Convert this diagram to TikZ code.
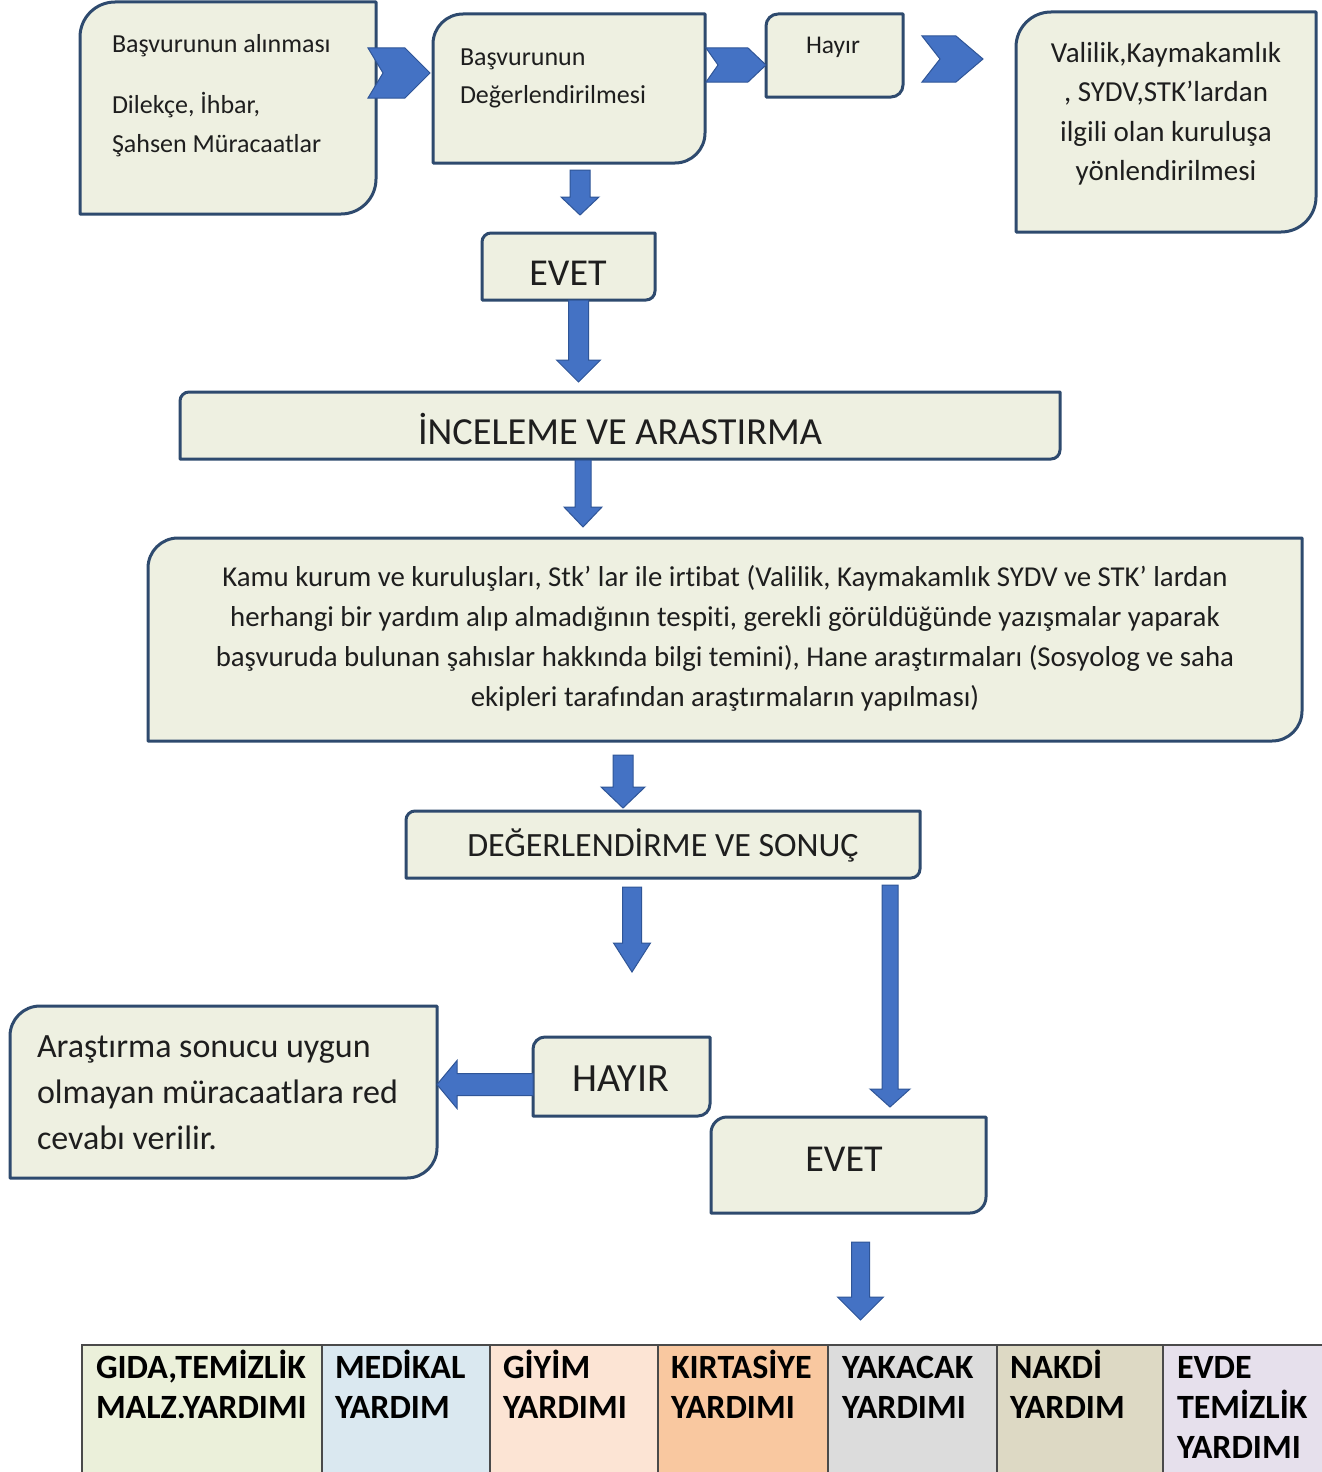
\documentclass[tikz,border=0pt]{standalone}
\usepackage{fontspec}
\setmainfont{Carlito}[Ligatures={NoCommon,TeX}]
\usetikzlibrary{calc}
\definecolor{boxfill}{HTML}{EEF0E1}
\definecolor{boxline}{HTML}{2E4A6E}
\definecolor{arrfill}{HTML}{4472C4}
\definecolor{arrline}{HTML}{2F5597}
\definecolor{txtcol}{HTML}{1E1E1E}
\definecolor{cellA}{HTML}{EBF0DA}
\definecolor{cellB}{HTML}{DAE8F0}
\definecolor{cellC}{HTML}{FCE4D4}
\definecolor{cellD}{HTML}{F9C8A0}
\definecolor{cellE}{HTML}{DCDCDC}
\definecolor{cellF}{HTML}{DDD9C4}
\definecolor{cellG}{HTML}{E6E0EC}
\definecolor{cellline}{HTML}{4A4A4A}

\newcommand\fs[2]{\fontsize{#1}{#2}\selectfont}
\newcommand\tstrut[1]{\rule{0pt}{#1pt}}

\tikzset{
 boxshape/.style={draw=none,inner sep=0pt,outer sep=0pt},
 boxborder/.style={draw=boxline,line width=3pt,fill=boxfill,line join=round},
 txt/.style={inner sep=0pt,outer sep=0pt,text=txtcol},
 blockarrow/.style={fill=arrfill,draw=arrline,line width=1pt,line join=miter},
 cell/.style={draw=cellline,line width=1.8pt,inner sep=0pt,outer sep=0pt,anchor=north west,minimum height=140pt},
 celltxt/.style={inner sep=0pt,outer sep=0pt,text=black,anchor=north west,align=left,font=\fs{34}{40}\bfseries},
}

\newcommand\mkbox[6]{%
 \node[boxshape,minimum width={#4-#2},minimum height={#5-#3}] (#1) at ({(#2+#4)/2},{(#3+#5)/2}) {};
 \draw[boxborder] (#1.south west) -- ([yshift=-#6pt]#1.north west) arc[start angle=180,end angle=90,radius=#6pt] -- (#1.north east) -- ([yshift=#6pt]#1.south east) arc[start angle=0,end angle=-90,radius=#6pt] -- cycle;}

\newcommand\vblk[5]{%
 \path[blockarrow] let \p1=#1, \p2=#2 in
 (\x1-#3pt,\y1) -- (\x1+#3pt,\y1) -- (\x1+#3pt,\y2+#5pt) -- (\x1+#4pt,\y2+#5pt) -- (\x1,\y2) -- (\x1-#4pt,\y2+#5pt) -- (\x1-#3pt,\y2+#5pt) -- cycle;}

\newcommand\hblk[5]{%
 \path[blockarrow] let \p1=#1, \p2=#2 in
 (\x1,\y1+#3pt) -- (\x2+#5pt,\y1+#3pt) -- (\x2+#5pt,\y1+#4pt) -- (\x2,\y1) -- (\x2+#5pt,\y1-#4pt) -- (\x2+#5pt,\y1-#3pt) -- (\x1,\y1-#3pt) -- cycle;}

\newcommand\chev[5]{%
 \path[blockarrow] let \p1=#1 in
 (\x1,\y1+#3pt) -- (\x1+#2pt-#4pt,\y1+#3pt) -- (\x1+#2pt,\y1) -- (\x1+#2pt-#4pt,\y1-#3pt) -- (\x1,\y1-#3pt) -- (\x1+#5pt,\y1) -- cycle;}

\begin{document}
\begin{tikzpicture}[x=1pt,y=-1pt]
\useasboundingbox (0,0) rectangle (1322,1472);
\fill[white] (0,0) rectangle (1322,1472);

% boxes
\mkbox{b1}{80}{2}{376}{214}{35}
\node[txt,anchor=north west,align=left,font=\fs{26}{39}] (t1) at (112,24) {\tstrut{28}Başvurunun alınması\\[22pt]Dilekçe, İhbar,\\Şahsen Müracaatlar};

\mkbox{b2}{433}{14}{705}{163}{30}
\node[txt,anchor=north west,align=left,font=\fs{26}{38}] (t2) at (460,37) {\tstrut{28}Başvurunun\\Değerlendirilmesi};

\mkbox{hy}{766}{14}{903}{97}{12}
\node[txt,anchor=base,font=\fs{25.5}{30}] (thy) at (833,53) {Hayır};

\mkbox{vk}{1016}{12}{1316}{232}{35}
\node[txt,anchor=north,align=center,font=\fs{29}{39.5}] (tvk) at (1166,32) {\tstrut{30}Valilik,Kaymakamlık\\, SYDV,STK’lardan\\ilgili olan kuruluşa\\yönlendirilmesi};

\mkbox{ev1}{482}{233}{655}{300}{9}
\node[txt,anchor=base,font=\fs{38}{40}] (tev1) at (568,285) {EVET};

\mkbox{inc}{180}{392}{1060}{459}{9}
\node[txt,anchor=base,font=\fs{38.3}{40}] (tinc) at (620,444) {İNCELEME VE ARASTIRMA};

\mkbox{kamu}{148}{538}{1302}{741}{30}
\node[txt,anchor=north,align=center,font=\fs{28.8}{40}] (tkamu) at (725,557) {\tstrut{29}Kamu kurum ve kuruluşları, Stk' lar ile irtibat (Valilik, Kaymakamlık SYDV ve STK' lardan\\herhangi bir yardım alıp almadığının tespiti, gerekli görüldüğünde yazışmalar yaparak\\başvuruda bulunan şahıslar hakkında bilgi temini), Hane araştırmaları (Sosyolog ve saha\\ekipleri tarafından araştırmaların yapılması)};

\mkbox{deg}{406}{811}{920}{878}{9}
\node[txt,anchor=base,font=\fs{34}{40}] (tdeg) at (663,856) {DEĞERLENDİRME VE SONUÇ};

\mkbox{hay}{533}{1037}{710}{1116}{12}
\node[txt,anchor=base,font=\fs{40}{40}] (thay) at (621,1091) {HAYIR};

\mkbox{red}{10}{1006}{437}{1178}{30}
\node[txt,anchor=north west,align=left,font=\fs{34}{46}] (tred) at (37,1025) {\tstrut{32}Araştırma sonucu uygun\\olmayan müracaatlara red\\cevabı verilir.};

\mkbox{ev2}{711}{1117}{986}{1213}{16}
\node[txt,anchor=base,font=\fs{38}{40}] (tev2) at (844,1171) {EVET};

% table
\node[cell,fill=cellA,minimum width=240pt] (c1) at (82,1345) {};
\node[cell,fill=cellB,minimum width=168pt] (c2) at (322,1345) {};
\node[cell,fill=cellC,minimum width=168pt] (c3) at (490,1345) {};
\node[cell,fill=cellD,minimum width=170pt] (c4) at (658,1345) {};
\node[cell,fill=cellE,minimum width=169pt] (c5) at (828,1345) {};
\node[cell,fill=cellF,minimum width=166pt] (c6) at (997,1345) {};
\node[cell,fill=cellG,minimum width=177pt] (c7) at (1163,1345) {};
\node[celltxt] (d1) at (96,1348) {\tstrut{30}GIDA,TEMİZLİK\\MALZ.YARDIMI};
\node[celltxt] (d2) at (335,1348) {\tstrut{30}MEDİKAL\\YARDIM};
\node[celltxt] (d3) at (503,1348) {\tstrut{30}GİYİM\\YARDIMI};
\node[celltxt] (d4) at (671,1348) {\tstrut{30}KIRTASİYE\\YARDIMI};
\node[celltxt] (d5) at (842,1348) {\tstrut{30}YAKACAK\\YARDIMI};
\node[celltxt] (d6) at (1010,1348) {\tstrut{30}NAKDİ\\YARDIM};
\node[celltxt] (d7) at (1177,1348) {\tstrut{30}EVDE\\TEMİZLİK\\YARDIMI};

% chevrons
\chev{($(b1.north east)+(-8,71)$)}{62}{25}{25}{15}
\chev{($(b2.north east)+(1,51)$)}{60}{17}{18}{12}
\chev{($(hy.north east)+(19,45)$)}{61}{23}{27}{18}

% block arrows
\vblk{($(b2.south)+(11,7)$)}{($(ev1.north)+(0,-18)$)}{10}{19}{18}
\vblk{($(ev1.south)+(10,0)$)}{($(inc.north)+(0,-10)$)}{10}{22}{22}
\vblk{($(inc.south)+(-37,1)$)}{($(kamu.north)+(0,-11)$)}{8}{19}{20}
\vblk{($(kamu.south)+(-102,14)$)}{($(deg.north)+(0,-3)$)}{10}{22}{21}
\vblk{($(deg.south)+(-31,9)$)}{($(hay.north)+(0,-65)$)}{9.5}{18.5}{29}
\vblk{($(deg.south east)+(-30,7)$)}{($(ev2.north)+(0,-10)$)}{8}{20}{18}
\vblk{($(ev2.south)+(12,29)$)}{($(c5.north)+(0,-25)$)}{9}{23}{23}
\hblk{($(hay.west)+(0,8)$)}{(red.east)}{11}{24}{20}
\end{tikzpicture}
\end{document}
